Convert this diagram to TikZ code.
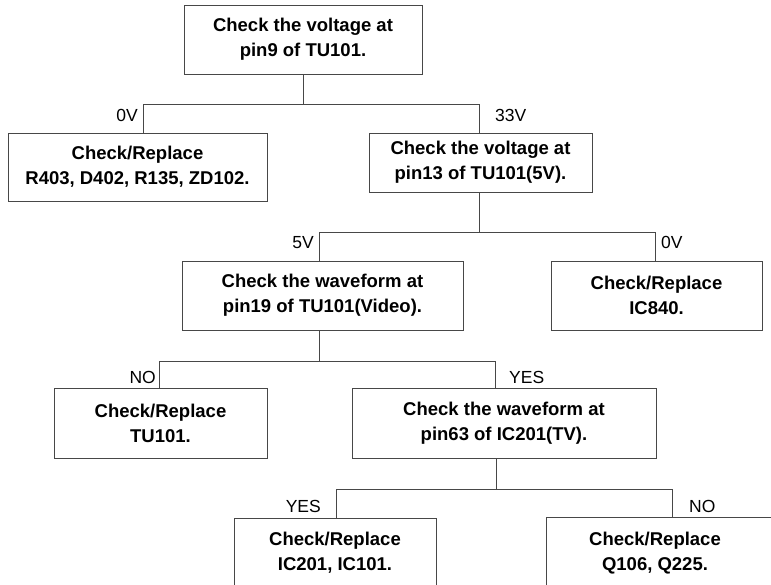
\documentclass[tikz,border=0pt]{standalone}
\usepackage{fontspec}
\setmainfont{Liberation Sans}
\begin{document}
\begin{tikzpicture}[x=1pt,y=-1pt,
  boxtext/.style={inner sep=0pt, align=center,
    font=\fontsize{18.5}{25}\selectfont\bfseries},
  box/.style={boxtext, draw=black!72, line width=0.9pt},
  wire/.style={draw=black!72, line width=0.9pt},
  tag/.style={inner sep=0pt, font=\fontsize{17.5}{20}\selectfont}]
\useasboundingbox (0,0) rectangle (771,584);
\clip (0,0) rectangle (771,584);

% decision and action boxes
\node[box, minimum width=238pt, minimum height=69pt] (b1) at (303,39.5)
  {Check the voltage at\\pin9 of TU101.};
\node[box, minimum width=259pt, minimum height=68pt] (b2) at (137.5,167)
  {Check/Replace\\R403, D402, R135, ZD102.};
\node[box, minimum width=223pt, minimum height=59pt] (b3) at (480.5,162.5)
  {Check the voltage at\\pin13 of TU101(5V).};
\node[box, minimum width=281pt, minimum height=69pt] (b4) at (322.5,295.5)
  {Check the waveform at\\pin19 of TU101(Video).};
\node[box, minimum width=211pt, minimum height=69pt] (b5) at (656.5,295.5)
  {Check/Replace\\IC840.};
\node[box, minimum width=213pt, minimum height=70pt] (b6) at (160.5,423)
  {Check/Replace\\TU101.};
\node[box, minimum width=304pt, minimum height=70pt] (b7) at (504,423)
  {Check the waveform at\\pin63 of IC201(TV).};
\node[box, minimum width=202pt, minimum height=70pt] (b8) at (335,553)
  {Check/Replace\\IC201, IC101.};
\node[boxtext, minimum width=216pt, minimum height=70pt] (b9) at (655,553)
  {Check/Replace\\Q106, Q225.};
\draw[wire] (b9.south west) -- (b9.north west) -- ([xshift=30pt]b9.north east)
  -- ([xshift=30pt]b9.south east) -- cycle;

% branch points
\coordinate (j1) at (303,104);  \coordinate (j1l) at (143,104);  \coordinate (j1r) at (479,104);
\coordinate (j2) at (479,232);  \coordinate (j2l) at (319,232);  \coordinate (j2r) at (655,232);
\coordinate (j3) at (319,361);  \coordinate (j3l) at (159,361);  \coordinate (j3r) at (495,361);
\coordinate (j4) at (496,489);  \coordinate (j4l) at (336,489);  \coordinate (j4r) at (672,489);

% connectors
\draw[wire] (b1.south) -- (j1);
\draw[wire] (b2.north -| j1l) -- (j1l) -- (j1r) -- (b3.north -| j1r);
\draw[wire] (b3.south -| j2) -- (j2);
\draw[wire] (b4.north -| j2l) -- (j2l) -- (j2r) -- (b5.north -| j2r);
\draw[wire] (b4.south -| j3) -- (j3);
\draw[wire] (b6.north -| j3l) -- (j3l) -- (j3r) -- (b7.north -| j3r);
\draw[wire] (b7.south -| j4) -- (j4);
\draw[wire] (b8.north -| j4l) -- (j4l) -- (j4r) -- (b9.north -| j4r);

% branch labels
\node[tag, anchor=base east] (t1) at (138,121) {0V};
\node[tag, anchor=base west] (t2) at (495,121) {33V};
\node[tag, anchor=base east] (t3) at (314,248) {5V};
\node[tag, anchor=base west] (t4) at (661,248) {0V};
\node[tag, anchor=base east] (t5) at (156,383) {NO};
\node[tag, anchor=base west] (t6) at (509,383) {YES};
\node[tag, anchor=base east] (t7) at (321,512) {YES};
\node[tag, anchor=base west] (t8) at (689,512) {NO};
\end{tikzpicture}
\end{document}
